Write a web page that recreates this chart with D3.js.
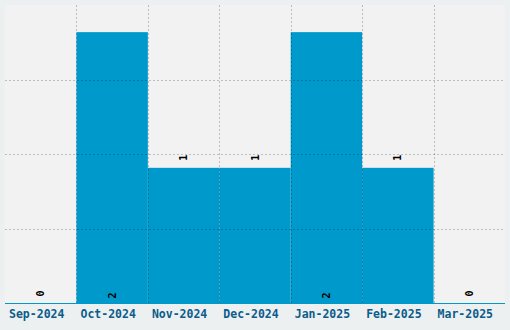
<!DOCTYPE html>
<html>
<head>
<meta charset="utf-8">
<script src="https://cdn.jsdelivr.net/npm/d3@7"></script>
<style>
	body { margin: 0; background: #edf0f0; }
	svg { display: block; }
</style>
</head>
<body>
<script>
//chart data
var months = ["Sep-2024", "Oct-2024", "Nov-2024", "Dec-2024", "Jan-2025", "Feb-2025", "Mar-2025"];
var counts = [0, 2, 1, 1, 2, 1, 0];

var width = 510,
	height = 330,
	margin = {top: 5, right: 5, bottom: 26, left: 5};

var barColor = "#0099cc",
	gridColor = "rgba(0,0,0,0.22)",
	tickColor = "#0b5c8c",
	fontFam = "'DejaVu Sans Mono', monospace";

var svg = d3.select("body").append("svg")
	.attr("width", width)
	.attr("height", height);

var xScale = d3.scaleBand()
	.domain(months)
	.range([margin.left, width - margin.right])
	.padding(0);

var yScale = d3.scaleLinear()
	.domain([0, d3.max(counts) * 1.1])
	.range([height - margin.bottom - 0.5, margin.top]);

//plot background
svg.append("rect")
	.attr("x", margin.left)
	.attr("y", margin.top)
	.attr("width", width - margin.left - margin.right)
	.attr("height", height - margin.top - margin.bottom)
	.style("fill", "#f2f2f2");

//bars
svg.append("g").selectAll("rect")
	.data(counts).enter()
		.append("rect")
		.attr("x", function(d, i) { return xScale(months[i]); })
		.attr("y", function(d) { return yScale(d); })
		.attr("width", xScale.bandwidth())
		.attr("height", function(d) { return yScale(0) - yScale(d); })
		.style("fill", barColor);

//grid, drawn on top of bars
var yMax = yScale.domain()[1];
var gridY = [1, 2, 3].map(function(k) { return yMax * k / 4; });
svg.append("g").selectAll("line")
	.data(gridY).enter()
		.append("line")
		.attr("x1", margin.left)
		.attr("x2", width - margin.right)
		.attr("y1", function(d) { return Math.round(yScale(d)) + 0.5; })
		.attr("y2", function(d) { return Math.round(yScale(d)) + 0.5; })
		.style("stroke", gridColor)
		.style("stroke-dasharray", "2,2");

svg.append("g").selectAll("line")
	.data(months.slice(1)).enter()
		.append("line")
		.attr("x1", function(d) { return Math.round(xScale(d)) + 0.5; })
		.attr("x2", function(d) { return Math.round(xScale(d)) + 0.5; })
		.attr("y1", margin.top)
		.attr("y2", yScale(0))
		.style("stroke", gridColor)
		.style("stroke-dasharray", "2,2");

//x axis
var xAxis = d3.axisBottom(xScale).tickSize(0).tickPadding(6);
var gX = svg.append("g")
	.attr("transform", "translate(0," + (yScale(0)) + ")")
	.call(xAxis);
gX.select(".domain")
	.attr("d", "M" + margin.left + ",0H" + (width - margin.right))
	.style("stroke", barColor);
gX.selectAll("text")
	.attr("dx", "-4")
	.style("fill", tickColor)
	.style("font-family", fontFam)
	.style("font-weight", "bold")
	.style("font-size", "11.5px");

//value labels
svg.append("g").selectAll("text")
	.data(counts).enter()
		.append("text")
		.attr("transform", function(d, i) {
			var cx = xScale(months[i]) + xScale.bandwidth() / 2;
			var top = yScale(d);
			var ty = (top - 30 < margin.top) ? yScale(0) - 5 : top - 7;
			return "translate(" + cx + "," + ty + ") rotate(-90)";
		})
		.attr("dy", "0.35em")
		.style("text-anchor", "start")
		.style("font-family", fontFam)
		.style("font-weight", "bold")
		.style("font-size", "10px")
		.style("fill", "#000")
		.text(function(d) { return d; });
</script>
</body>
</html>
